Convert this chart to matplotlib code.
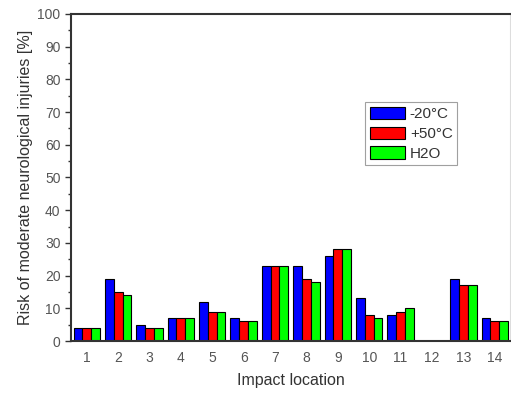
import numpy as np
import matplotlib.pyplot as plt

plt.rcParams['font.family'] = ['Liberation Sans', 'DejaVu Sans']

# Risk values per impact location
locations = list(range(1, 15))
risk_minus20 = [4, 19, 5, 7, 12, 7, 23, 23, 26, 13, 8, 0, 19, 7]
risk_plus50 = [4, 15, 4, 7, 9, 6, 23, 19, 28, 8, 9, 0, 17, 6]
risk_h2o = [4, 14, 4, 7, 9, 6, 23, 18, 28, 7, 10, 0, 17, 6]
series_labels = ['-20°C', '+50°C', 'H2O']
colors = ['#0000ff', '#ff0000', '#00ff00']

fig = plt.figure(figsize=(5.11, 3.94), dpi=100)
ax = fig.add_axes([0.139, 0.1345, 0.86, 0.83])

x = np.array(locations)
w = 0.28
for i, (vals, lab, c) in enumerate(zip([risk_minus20, risk_plus50, risk_h2o], series_labels, colors)):
    ax.bar(x + (i - 1) * w, vals, width=w, color=c, edgecolor='black',
           linewidth=0.8, label=lab)

ax.set_xlim(0.5, 14.5)
ax.set_ylim(0, 100)
ax.set_xticks(locations)
ax.set_yticks(range(0, 101, 10))
ax.set_yticks(range(5, 100, 10), minor=True)
ax.tick_params(axis='x', length=0, pad=7, labelsize=10, labelcolor='#555555')
ax.tick_params(axis='y', which='major', length=4, width=1, direction='out',
               labelsize=10, labelcolor='#555555', color='#333333')
ax.tick_params(axis='y', which='minor', length=2, width=1, direction='out',
               color='#333333')

for side in ['left', 'bottom', 'top']:
    ax.spines[side].set_color('#333333')
    ax.spines[side].set_linewidth(1.5)
ax.spines['right'].set_color('#dddddd')
ax.spines['right'].set_linewidth(0.8)

ax.set_xlabel('Impact location', fontsize=11.5, color='#333333', labelpad=6)
ax.set_ylabel('Risk of moderate neurological injuries [%]', fontsize=11.5,
              color='#333333', labelpad=3)

leg = ax.legend(loc='upper left', bbox_to_anchor=(0.67, 0.73), fontsize=11,
                frameon=True, fancybox=False, edgecolor='#888888',
                handlelength=2.3, handleheight=0.85, handletextpad=0.3,
                labelspacing=0.35, borderpad=0.3, borderaxespad=0)
leg.get_frame().set_linewidth(0.8)
for t in leg.get_texts():
    t.set_color('#333333')

fig.savefig('out.png', dpi=100)
